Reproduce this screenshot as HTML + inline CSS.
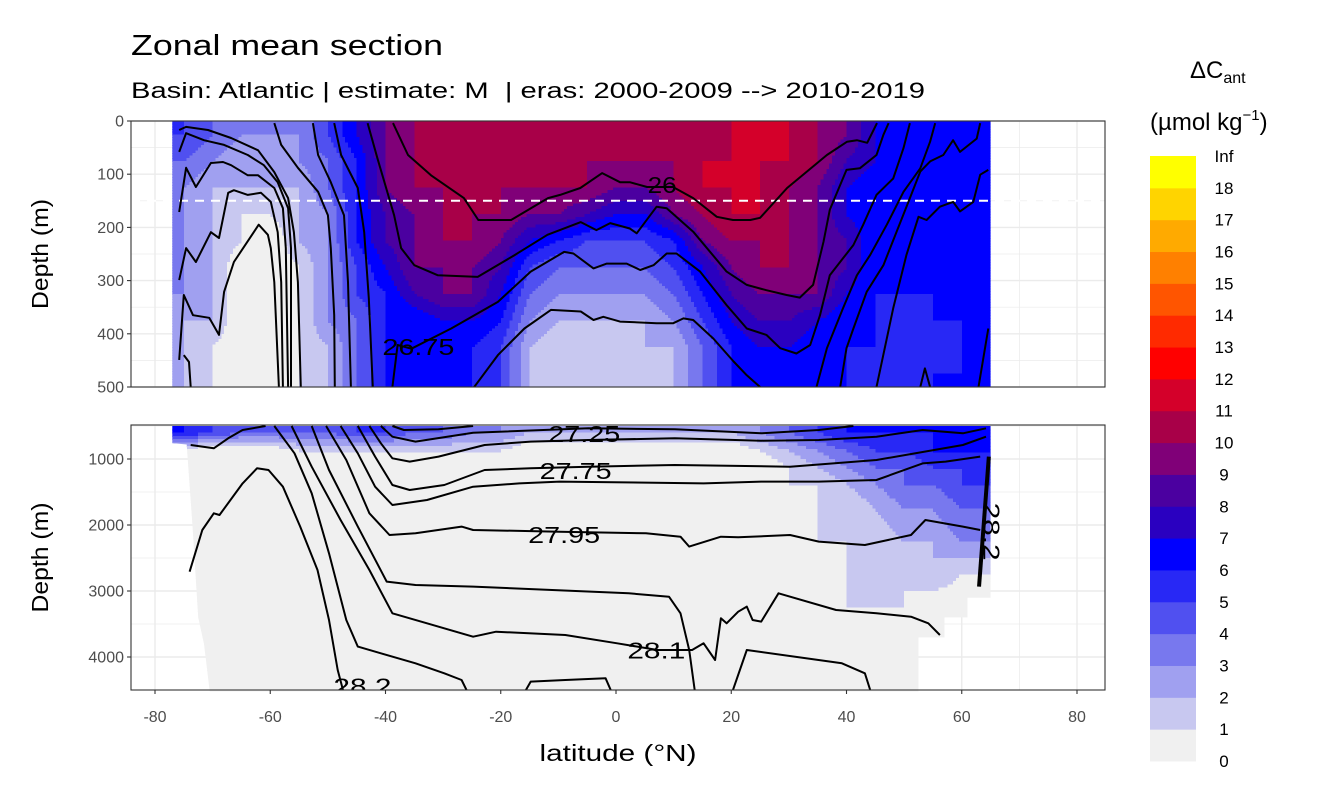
<!DOCTYPE html>
<html><head><meta charset="utf-8"><style>
html,body{margin:0;padding:0;background:#fff;}
svg{display:block;font-family:"Liberation Sans",sans-serif;}
</style></head><body>
<svg id="chart" width="1344" height="806" viewBox="0 0 1344 806" xmlns="http://www.w3.org/2000/svg">
<text x="131" y="55" font-size="29" fill="#000" textLength="312" lengthAdjust="spacingAndGlyphs">Zonal mean section</text>
<text x="131" y="98" font-size="22" fill="#000" xml:space="preserve" style="white-space:pre" textLength="794" lengthAdjust="spacingAndGlyphs">Basin: Atlantic | estimate: M  | eras: 2000-2009 --&gt; 2010-2019</text>
<g id="grid"></g><g id="heat" shape-rendering="crispEdges"></g><g id="lines"></g><g id="axes"></g><g id="legend"></g>
</svg>
<script>
// ---- data ----
const binColors = ["#f0f0f0","#c8c8f0","#a0a0f0","#7878ee","#5050f0","#2828f5","#0000ff","#2a00c0","#4b00a0","#800078","#a80048","#d4002a","#ff0000","#ff2a00","#ff5500","#ff8000","#ffaa00","#ffd400","#ffff00"];
const legendLabels = ["0","1","2","3","4","5","6","7","8","9","10","11","12","13","14","15","16","17","18","Inf"];
const gridLats = [-75,-70,-65,-60,-55,-50,-45,-40,-35,-30,-25,-20,-15,-10,-5,0,5,10,15,20,25,30,35,40,45,50,55,60,65];
const topDepths = [25,75,125,175,225,275,325,375,425,475];
const topValues = [
[5,4,3,3,3,5,7,9,10,10,10,10,10,10,10,10,10,11,10,11,11,11,10,9,7,6,6,6,6],
[4,3,2,2,3,4,6,9,10,10,10,11,10,11,10,10,10,10,11,11,11,11,10,8,7,6,6,6,6],
[3,2,2,2,2,4,6,9,10,10,10,10,10,10,10,9,9,10,11,11,11,10,9,7,6,6,6,6,6],
[3,2,1,1,2,3,6,8,9,10,10,10,9,9,8,7,7,9,10,11,11,10,9,7,6,6,6,6,6],
[3,2,1,0,2,3,6,8,9,10,10,9,7,6,5,5,5,6,9,10,10,10,9,8,6,6,6,6,6],
[3,2,0,0,1,3,5,7,9,9,9,8,5,4,4,4,4,5,7,9,10,10,9,8,6,6,6,6,6],
[3,2,0,0,1,3,5,6,8,9,9,7,4,3,3,3,3,4,6,8,9,9,9,7,6,6,6,6,6],
[2,2,0,0,1,3,4,6,6,7,7,6,3,2,2,2,2,3,5,7,8,8,7,6,6,5,6,6,6],
[2,1,0,0,1,2,4,6,6,6,6,5,2,1,1,1,2,2,4,6,7,7,6,6,6,5,5,6,6],
[2,1,0,0,1,2,4,6,6,6,6,5,2,1,1,1,1,2,4,6,6,6,6,6,5,5,6,6,6]];
const botDepths = [600,875,1125,1375,1750,2250,2750,3250,4000];
const botValues = [
[6,5,4,4,4,4,5,5,4,4,3,3,2,2,2,2,2,2,2,2,3,4,5,6,6,6,6,6,6],
[0,0,0,0,1,1,1,1,1,1,1,1,0,0,0,0,0,0,0,0,1,2,3,4,5,5,6,6,6],
[0,0,0,0,0,0,0,0,0,0,0,0,0,0,0,0,0,0,0,0,0,1,2,3,4,4,5,5,6],
[0,0,0,0,0,0,0,0,0,0,0,0,0,0,0,0,0,0,0,0,0,1,1,2,3,4,4,5,5],
[0,0,0,0,0,0,0,0,0,0,0,0,0,0,0,0,0,0,0,0,0,0,1,1,2,3,3,4,4],
[0,0,0,0,0,0,0,0,0,0,0,0,0,0,0,0,0,0,0,0,0,0,1,1,1,2,2,3,3],
[0,0,0,0,0,0,0,0,0,0,0,0,0,0,0,0,0,0,0,0,0,0,0,1,1,1,2,1,1],
[0,0,0,0,0,0,0,0,0,0,0,0,0,0,0,0,0,0,0,0,0,0,0,1,1,1,0,0,0],
[0,0,0,0,0,0,0,0,0,0,0,0,0,0,0,0,0,0,0,0,0,0,0,0,0,0,0,0,0]];
const xTicks = [-80,-60,-40,-20,0,20,40,60,80];
const topYTicks = [0,100,200,300,400,500];
const botYTicks = [1000,2000,3000,4000];
// contours [lat, depth]
const topContours = [
[[-75.8,17],[-74.6,11],[-70.8,17],[-66.8,32],[-62.1,55],[-59.3,96],[-56.9,145],[-55.9,209],[-55.2,303],[-54.7,500]],
[[-75.8,58],[-74.6,23],[-71.5,36],[-68,45],[-63.9,64],[-61.1,83],[-58.7,115],[-56.9,164],[-56.4,239],[-56.4,500]],
[[-75.8,171],[-74.6,88],[-72.9,124],[-70.3,79],[-68.2,77],[-66.8,83],[-63.9,102],[-62.1,102],[-59.3,126],[-57.8,164],[-57.3,239],[-56.9,500]],
[[-75.8,299],[-74.6,239],[-72.9,265],[-70.3,209],[-68.9,220],[-67.3,135],[-66.3,130],[-63.9,139],[-61.6,135],[-59.9,152],[-58.7,209],[-58.1,303],[-57.8,500]],
[[-75.8,449],[-75,327],[-73.4,365],[-70.6,370],[-68.9,402],[-68,321],[-66.3,265],[-62,195],[-60.4,214],[-59.9,239],[-59.3,303],[-58.5,500]],
[[-75,440],[-74.1,453],[-73.8,500]],
[[-59.3,4],[-58.1,45],[-55.2,88],[-51.7,133],[-50,177],[-49.5,239],[-48.9,365],[-48.8,500]],
[[-52.6,4],[-51.7,64],[-49.5,115],[-47.2,177],[-46.5,303],[-46,500]],
[[-48.9,4],[-47.7,64],[-44.8,126],[-43.7,209],[-42.9,333],[-42.2,500]],
[[-38.7,4],[-36.1,64],[-32.1,102],[-26.4,145],[-23.9,186],[-18.2,186],[-11.8,145],[-9.7,139],[-6.2,126],[-2.4,98],[0.7,115],[2.4,115],[5.4,124],[9.9,124],[13.4,145],[17.5,180],[20.3,186],[23.3,186],[25,182],[29.7,126],[36.6,64],[40.1,39],[41.8,36],[43.6,41],[45.3,4]],
[[-43.1,4],[-41.4,70],[-38.5,177],[-37.3,239],[-35,271],[-30.9,290],[-24,293],[-17.6,252],[-11.9,214],[-6.1,190],[-3.4,205],[-1,192],[2.4,202],[3.6,211],[7.05,161],[8.8,164],[13.4,208],[19.2,283],[22.7,308],[26.1,318],[29.6,327],[31.9,332],[34.2,308],[36,227],[37.1,167],[40,92],[42.3,89],[45.2,64],[46.4,26],[47.3,4]],
[[-38.8,500],[-37.9,421],[-35.5,428],[-28.6,390],[-20.5,340],[-14.8,283],[-9,246],[-7.4,249],[-3.9,277],[-1.6,268],[1.85,268],[4.2,280],[6.5,271],[8.8,249],[10.5,249],[14.6,283],[19.2,346],[22.7,390],[26.1,402],[28.5,427],[31.3,437],[33.7,421],[35.4,365],[37.1,290],[39.4,258],[41.2,233],[42.9,195],[45.2,139],[48.1,108],[49.9,51],[51,4]],
[[-24.6,500],[-20.5,440],[-15.9,390],[-11.3,355],[-6.1,358],[-3.9,374],[-2.2,368],[0.7,377],[7.05,380],[9.95,380],[11.7,371],[13.4,374],[16.9,409],[20.4,452],[22.7,478],[25,500]],
[[34.8,500],[36.6,427],[39.4,352],[41.8,290],[44.1,252],[47,195],[49.9,133],[52.8,89],[54.5,39],[55.4,4]],
[[38.9,500],[40,427],[41.2,390],[43.5,321],[46.4,271],[48.7,208],[51,145],[52.8,95],[54.5,76],[56.8,64],[58.5,36],[59.7,58],[62.6,33],[63.2,4]],
[[45.2,500],[48.1,352],[50.4,252],[52.5,180],[53.9,186],[56.2,161],[58.5,152],[59.7,170],[62,152],[63.2,101],[64.6,92]],
[[62.9,500],[64.6,390]],
[[52.8,500],[53.6,465],[54.5,500]]];
const botContours = [
[[-74,2707],[-71.8,2076],[-69.8,1823],[-68.8,1848],[-64.8,1369],[-62.3,1141],[-60.3,1167],[-57.8,1419],[-54.8,2025],[-51.8,2682],[-49.8,3439],[-48.3,4197],[-47.3,4525]],
[[-73.8,788],[-69.8,838],[-67.3,687],[-64.8,561],[-60.8,500]],
[[-59.3,500],[-55.8,914],[-52.8,1520],[-49.8,2429],[-46.8,3439],[-44.8,3843],[-40.8,3944],[-34.8,4096],[-29.8,4247],[-26.8,4348],[-25.8,4525]],
[[-56.3,500],[-52.8,1116],[-47.8,1924],[-42.8,2682],[-38.8,3338],[-32.8,3490],[-24.8,3692],[-20.8,3616],[-8.8,3666],[0.2,3793],[7.2,3894],[13.2,3894],[15.2,3793],[17.2,4045],[18.2,3414],[19.2,3490],[21.2,3313],[22.7,3237],[23.7,3439],[25.2,3464],[28.2,3035],[38.2,3288],[45.2,3338],[51.2,3389],[54.2,3490],[56.2,3666]],
[[-52.8,500],[-49.8,1167],[-44.8,2025],[-39.8,2858],[-34.8,2909],[-24.8,2934],[2.2,3035],[9.2,3086],[11.2,3338],[12.7,3894],[13.7,4525]],
[[20.2,4525],[22.7,3894],[39.2,4096],[43.2,4247],[44.2,4525]],
[[-15.8,4525],[-14.8,4373],[-8.8,4348],[-1.8,4323],[-0.8,4525]],
[[-50.3,500],[-46.8,1015],[-42.8,1823],[-39.3,2151],[-34.8,2126],[-26.8,2025],[-24.8,2076],[-9.8,2101],[5.2,2126],[11.2,2177],[12.7,2328],[18.2,2177],[21.2,2187],[30.2,2151],[35.2,2252],[43.2,2303],[51.2,2151],[53.7,1924],[60.2,2025],[63.2,2076]],
[[-47.8,500],[-44.8,914],[-41.8,1419],[-38.8,1697],[-32.8,1621],[-24.8,1419],[-16.8,1369],[-9.8,1343],[15.2,1369],[25.2,1343],[35.2,1343],[45.2,1318],[53.2,1066],[57.2,1040],[63.2,964]],
[[-44.8,500],[-41.8,964],[-38.8,1394],[-35.8,1470],[-29.8,1394],[-22.8,1167],[-14.8,1141],[-4.8,1116],[10.2,1091],[30.2,1116],[45.2,1015],[55.2,864],[60.2,788],[64.2,662]],
[[-42.8,500],[-40.8,762],[-38.8,990],[-35.8,1040],[-30.8,964],[-22.8,788],[-14.8,737],[-4.8,712],[10.2,687],[25.2,722],[35.2,712],[45.2,662],[53.2,560],[60.2,611],[64.2,535]],
[[-40.8,500],[-38.8,662],[-34.8,737],[-24.8,601],[-4.8,535],[10.2,550],[25.2,611],[35.2,560],[41.2,500]],
[[-38.8,500],[-36.8,561],[-30.8,550],[-24.8,500]]];
const thickContour = [[64.7,964],[63,2934]];
const dataMaskBottom = [[-77,500],[65,500],[65,3100],[61,3100],[61,3400],[57,3400],[57,3700],[52.5,3700],[52.5,4520],[-70.5,4520],[-71.5,3800],[-72.5,3400],[-73.5,2000],[-74.5,780],[-77,760]];

// ---- scales ----
const X0=131,X1=1105,TT=121,TB=387,BT=425,BB=690;
const xS = lat => 616 + lat*5.7625;
const yT = d => 121 + d*0.532;
const yB = d => 459 + (d-1000)*0.066;
const NS="http://www.w3.org/2000/svg";
function mk(tag, attrs, parent){const e=document.createElementNS(NS,tag);for(const k in attrs)e.setAttribute(k,attrs[k]);parent.appendChild(e);return e;}
const svg=document.getElementById('chart');
const gGrid=document.getElementById('grid'),gHeat=document.getElementById('heat'),gLines=document.getElementById('lines'),gAxes=document.getElementById('axes'),gLeg=document.getElementById('legend');

// grid
function gridPanel(top,bot,yMaj,yMin,ys){
  for(let l=-90;l<=90;l+=10){const x=xS(l);if(x<X0||x>X1)continue;
    const gl=mk('line',{x1:x,x2:x,y1:top,y2:bot,stroke:'#ebebeb','stroke-width':l%20===0?1.4:0.7},gGrid);
    
    }
  yMaj.concat(yMin).forEach((d,i)=>{const y=ys(d);if(y<top||y>bot)return;
    const gl=mk('line',{x1:X0,x2:X1,y1:y,y2:y,stroke:'#ebebeb','stroke-width':i<yMaj.length?1.4:0.7},gGrid);
    
    });
}
gridPanel(TT,TB,topYTicks,[50,150,250,350,450],yT);
gridPanel(BT,BB,botYTicks,[500,1500,2500,3500,4500],yB);

// interpolation
function interp(depths, vals, lat, d){
  let i=0; while(i<gridLats.length-2 && lat>gridLats[i+1]) i++;
  let tx=(lat-gridLats[i])/(gridLats[i+1]-gridLats[i]); tx=Math.max(0,Math.min(1,tx));
  let j=0; while(j<depths.length-2 && d>depths[j+1]) j++;
  let ty=(d-depths[j])/(depths[j+1]-depths[j]); ty=Math.max(0,Math.min(1,ty));
  const a=vals[j][i],b=vals[j][i+1],c=vals[j+1][i],e=vals[j+1][i+1];
  return (a*(1-tx)+b*tx)*(1-ty)+(c*(1-tx)+e*tx)*ty;
}
function colorOf(v){let k=Math.floor(v+1e-6);k=Math.max(0,Math.min(binColors.length-1,k));return binColors[k];}
function heat(depths,vals,d0,d1,dStep,ys,clipId,panelName){
  const g=mk('g',{'clip-path':'url(#'+clipId+')'},gHeat);
  
  
  const lStep=0.5;
  for(let d=d0; d<d1; d+=dStep){
    let runStart=-77.5, runCol=null;
    for(let lat=-77.5; lat<=65.5; lat+=lStep){
      const c = lat>65.2 ? null : colorOf(interp(depths,vals,lat+lStep/2,d+dStep/2));
      if(c!==runCol){
        if(runCol){const r=mk('rect',{x:xS(runStart),y:ys(d),width:xS(lat)-xS(runStart)+1,height:ys(d+dStep)-ys(d)+1,fill:runCol},g);
          
          }
        runStart=lat; runCol=c;
      }
    }
  }
}
const defs=mk('defs',{},svg);
const cp1=mk('clipPath',{id:'clipTop'},defs);
mk('rect',{x:xS(-77),y:TT,width:xS(65)-xS(-77),height:TB-TT},cp1);
const cp2=mk('clipPath',{id:'clipBot'},defs);
mk('polygon',{points:dataMaskBottom.map(p=>xS(p[0])+','+yB(p[1])).join(' ')},cp2);
const cp3=mk('clipPath',{id:'clipTopPanel'},defs);mk('rect',{x:X0,y:TT,width:X1-X0,height:TB-TT},cp3);
const cp4=mk('clipPath',{id:'clipBotPanel'},defs);mk('rect',{x:X0,y:BT,width:X1-X0,height:BB-BT},cp4);
heat(topDepths,topValues,0,500,5,yT,'clipTop','top-panel-heatmap');
heat(botDepths,botValues,500,4550,50,yB,'clipBot','bottom-panel-heatmap');

// dashed line
const dl=mk('line',{x1:X0,x2:X1,y1:yT(150),y2:yT(150),stroke:'#fff','stroke-width':2,'stroke-dasharray':'9,7'},gLines);



// contours
function drawContours(list,ys,clip,w){
  const g=mk('g',{'clip-path':'url(#'+clip+')'},gLines);
  list.forEach(c=>{
    const p=mk('polyline',{points:c.map(q=>xS(q[0]).toFixed(1)+','+ys(q[1]).toFixed(1)).join(' '),fill:'none',stroke:'#000','stroke-width':w,'stroke-linejoin':'round'},g);
    
    
  });
  return g;
}
drawContours(topContours,yT,'clipTopPanel',2);
const gb=drawContours(botContours,yB,'clipBotPanel',2);
const tc=mk('polyline',{points:thickContour.map(q=>xS(q[0])+','+yB(q[1])).join(' '),fill:'none',stroke:'#000','stroke-width':4},gb);



// contour labels
function clabel(txt,lat,y,clip,rot){
  const g=mk('g',{'clip-path':'url(#'+clip+')'},gLines);
  const t=mk('text',{x:xS(lat),y:y,'font-size':23,'text-anchor':'middle',fill:'#000',textLength:(txt.length*14.4).toFixed(0),lengthAdjust:'spacingAndGlyphs'},g);
  if(rot) t.setAttribute('transform','rotate(90 '+xS(lat)+' '+y+')');
  t.textContent=txt;
  
  
}
clabel('26',8,yT(145)-5,'clipTopPanel');
clabel('26.75',-34.3,yT(425)+8,'clipTopPanel');
clabel('27.25',-5.5,yB(620)+8,'clipBotPanel');
clabel('27.75',-7,yB(1180)+8,'clipBotPanel');
clabel('27.95',-9,yB(2150)+8,'clipBotPanel');
clabel('28.1',7,yB(3900)+8,'clipBotPanel');
clabel('28.2',-44,yB(4450)+8,'clipBotPanel');
clabel('28.2',63.8,yB(2100),'clipBotPanel',true);

// panel borders
[[TT,TB,'top-panel-border'],[BT,BB,'bottom-panel-border']].forEach(p=>{
  const r=mk('rect',{x:X0,y:p[0],width:X1-X0,height:p[1]-p[0],fill:'none',stroke:'#333','stroke-width':1.1},gAxes);
  
  
});
// ticks
xTicks.forEach(l=>{const x=xS(l);
  mk('line',{x1:x,x2:x,y1:BB,y2:BB+4,stroke:'#333','stroke-width':1.1},gAxes);
  const t=mk('text',{x:x,y:BB+32,'font-size':16,'text-anchor':'middle',fill:'#4d4d4d'},gAxes);t.textContent=l;
  
  
});
function yTicks(ticks,ys){ticks.forEach(d=>{const y=ys(d);
  mk('line',{x1:X0-4,x2:X0,y1:y,y2:y,stroke:'#333','stroke-width':1.1},gAxes);
  const t=mk('text',{x:X0-7,y:y+5.5,'font-size':16,'text-anchor':'end',fill:'#4d4d4d'},gAxes);t.textContent=d;
  
  });}
yTicks(topYTicks,yT);yTicks(botYTicks,yB);
function ytitle(cy,name){const t=mk('text',{x:48,y:cy,'font-size':23,'text-anchor':'middle',fill:'#000',transform:'rotate(-90 48 '+cy+')',textLength:110,lengthAdjust:'spacingAndGlyphs'},gAxes);t.textContent='Depth (m)';
  
  }
ytitle((TT+TB)/2,'top-y-axis-title');ytitle((BT+BB)/2,'bottom-y-axis-title');
const xt=mk('text',{x:(X0+X1)/2,y:761,'font-size':23,'text-anchor':'middle',fill:'#000',textLength:157,lengthAdjust:'spacingAndGlyphs'},gAxes);xt.textContent='latitude (°N)';



// legend
const LB=761, LT=156, segH=(LB-LT)/binColors.length;
binColors.forEach((c,i)=>{const r=mk('rect',{x:1150,y:LB-(i+1)*segH,width:46,height:segH+0.5,fill:c},gLeg);
  
  });
legendLabels.forEach((s,i)=>{const t=mk('text',{x:1224,y:LB-i*segH+6,'font-size':17,'text-anchor':'middle',fill:'#000'},gLeg);t.textContent=s;
  
  });
const lt1=mk('text',{x:1190,y:78,'font-size':24,fill:'#000'},gLeg);
lt1.innerHTML='ΔC<tspan font-size="16" dy="5">ant</tspan>';


const lt2=mk('text',{x:1150,y:130,'font-size':24,fill:'#000'},gLeg);
lt2.innerHTML='(µmol kg<tspan font-size="15" dy="-10">−1</tspan><tspan dy="10">)</tspan>';


</script>
</body></html>
